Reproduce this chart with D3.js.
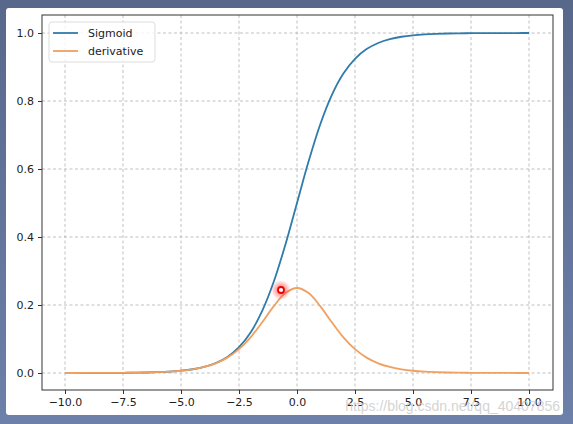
<!DOCTYPE html>
<html><head><meta charset="utf-8">
<script src="https://cdn.jsdelivr.net/npm/d3@7"></script>
<style>body{margin:0;background:linear-gradient(#58688a,#6c80aa);width:573px;height:424px;overflow:hidden}</style>
</head><body><svg id="c" width="573" height="424"></svg>
<script>
const xs = [-10,-9.5,-9,-8.5,-8,-7.5,-7,-6.5,-6,-5.5,-5,-4.5,-4,-3.5,-3,-2.5,-2,-1.5,-1,-0.5,0,0.5,1,1.5,2,2.5,3,3.5,4,4.5,5,5.5,6,6.5,7,7.5,8,8.5,9,9.5,10];
const sigmoid = [0.0000454,0.0000749,0.000123,0.000203,0.000335,0.000553,0.000911,0.0015,0.00247,0.00407,0.00669,0.011,0.018,0.0293,0.0474,0.0759,0.1192,0.1824,0.2689,0.3775,0.5,0.6225,0.7311,0.8176,0.8808,0.9241,0.9526,0.9707,0.982,0.989,0.9933,0.9959,0.9975,0.9985,0.9991,0.9994,0.9997,0.9998,0.9999,0.9999,1.0];
const derivative = [0.0000454,0.0000749,0.000123,0.000203,0.000335,0.000553,0.00091,0.0015,0.00247,0.00405,0.00665,0.0109,0.0177,0.0285,0.0452,0.0701,0.105,0.1491,0.1966,0.235,0.25,0.235,0.1966,0.1491,0.105,0.0701,0.0452,0.0285,0.0177,0.0109,0.00665,0.00405,0.00247,0.0015,0.00091,0.000553,0.000335,0.000203,0.000123,0.0000749,0.0000454];
const xTicks = [-10,-7.5,-5,-2.5,0,2.5,5,7.5,10];
const yTicks = [0,0.2,0.4,0.6,0.8,1.0];
const svg = d3.select("#c");
svg.append("rect").attr("x",6).attr("y",8).attr("width",557).attr("height",407).attr("rx",3).attr("fill","#fff");
const L=42,R=553,T=15,B=390;
const x = d3.scaleLinear().domain([-10,10]).range([65,529]);
const y = d3.scaleLinear().domain([0,1]).range([373,33]);
const g = svg.append("g").attr("font-family","DejaVu Sans").attr("font-size",11);
// grid
g.selectAll(".gx").data(xTicks).join("line").attr("x1",d=>x(d)).attr("x2",d=>x(d)).attr("y1",T).attr("y2",B).attr("stroke","#b0b0b0").attr("stroke-dasharray","3,2.5").attr("stroke-width",0.8);
g.selectAll(".gy").data(yTicks).join("line").attr("y1",d=>y(d)).attr("y2",d=>y(d)).attr("x1",L).attr("x2",R).attr("stroke","#b0b0b0").attr("stroke-dasharray","3,2.5").attr("stroke-width",0.8);
const line = d3.line().x((d,i)=>x(xs[i])).y(d=>y(d)).curve(d3.curveCatmullRom);
g.append("path").attr("d",line(sigmoid)).attr("fill","none").attr("stroke","#2f7bab").attr("stroke-width",1.8);
g.append("path").attr("d",line(derivative)).attr("fill","none").attr("stroke","#f0a060").attr("stroke-width",1.8);
g.append("rect").attr("x",L).attr("y",T).attr("width",R-L).attr("height",B-T).attr("fill","none").attr("stroke","#333").attr("stroke-width",1);
const ax = g.append("g").attr("transform",`translate(0,${B})`).call(d3.axisBottom(x).tickValues(xTicks).tickFormat(d3.format(".1f")).tickSize(4).tickPadding(4));
const ay = g.append("g").attr("transform",`translate(${L},0)`).call(d3.axisLeft(y).tickValues(yTicks).tickFormat(d3.format(".1f")).tickSize(4).tickPadding(4));
[ax,ay].forEach(a=>{a.select(".domain").remove();a.selectAll("text").attr("fill","#222").attr("font-family","DejaVu Sans").attr("font-size",11);a.selectAll("line").attr("stroke","#333");});
// legend
const lg = g.append("g");
lg.append("rect").attr("x",49).attr("y",22).attr("width",106).attr("height",40).attr("rx",3).attr("fill","#fff").attr("fill-opacity",0.8).attr("stroke","#ddd");
[["Sigmoid","#2f7bab"],["derivative","#f0a060"]].forEach((d,i)=>{
  lg.append("line").attr("x1",53).attr("x2",78).attr("y1",33+i*18).attr("y2",33+i*18).attr("stroke",d[1]).attr("stroke-width",1.8);
  lg.append("text").attr("x",88).attr("y",37+i*18).text(d[0]).attr("fill","#222");
});
// cursor highlight
const rg = svg.append("defs").append("radialGradient").attr("id","rg");
rg.append("stop").attr("offset","0%").attr("stop-color","#ff3030").attr("stop-opacity",0.8);
rg.append("stop").attr("offset","100%").attr("stop-color","#ff3030").attr("stop-opacity",0);
svg.append("circle").attr("cx",281).attr("cy",290).attr("r",10).attr("fill","url(#rg)");
svg.append("circle").attr("cx",281).attr("cy",290).attr("r",3).attr("fill","#fff").attr("stroke","#e00").attr("stroke-width",1.8);
svg.append("text").attr("x",560).attr("y",411).attr("text-anchor","end").attr("font-family","Liberation Sans").attr("font-size",14).attr("fill","#c8c8c8").attr("fill-opacity",0.8).text("https://blog.csdn.net/qq_40407856");
</script></body></html>
